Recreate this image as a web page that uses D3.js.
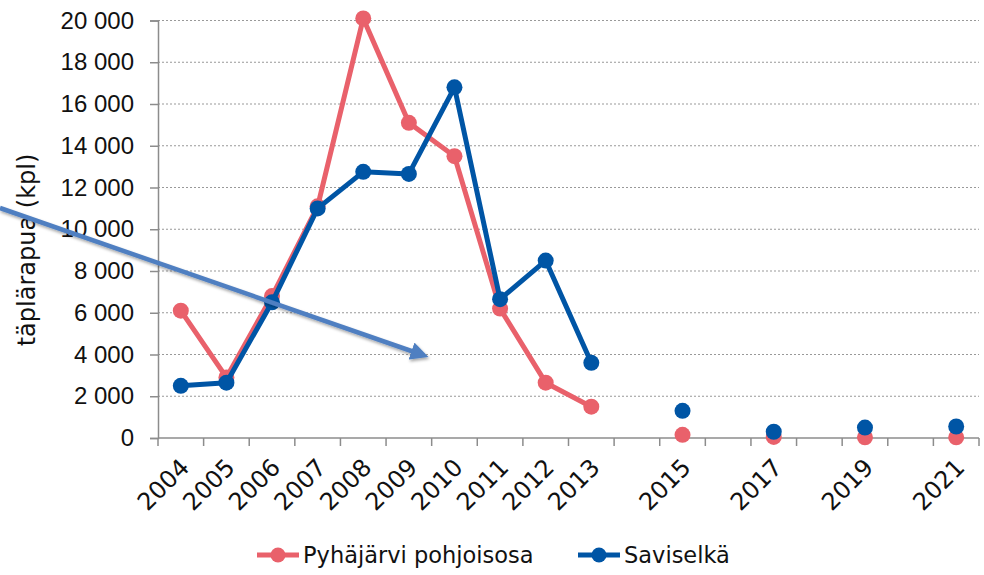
<!DOCTYPE html>
<html lang="fi">
<head>
<meta charset="UTF-8">
<title>Täplärapu</title>
<script src="https://cdn.jsdelivr.net/npm/d3@7"></script>
<style>
  body { margin: 0; background: #fff; font-family: "DejaVu Sans", sans-serif; }
  .grid line { stroke: #999; stroke-dasharray: 2 2; stroke-width: 1.2; }
  .axis path, .axis line { stroke: #8c8c8c; stroke-width: 1.5; }
  .axis text { font-size: 24px; fill: #111; }
</style>
</head>
<body>
<svg id="chart" width="984" height="575"></svg>
<script>
// years on the category axis (every year has a slot, only some are measured)
var years = [2004, 2005, 2006, 2007, 2008, 2009, 2010, 2011, 2012, 2013,
             2014, 2015, 2016, 2017, 2018, 2019, 2020, 2021];
var yearLabels = ["2004", "2005", "2006", "2007", "2008", "2009", "2010", "2011", "2012", "2013",
                  "", "2015", "", "2017", "", "2019", "", "2021"];
var pyhajarvi = [6100, 2900, 6800, 11100, 20100, 15100, 13500, 6200, 2650, 1500,
                 null, 150, null, 50, null, 30, null, 30];
var saviselka = [2500, 2650, 6500, 11000, 12750, 12650, 16800, 6650, 8500, 3600,
                 null, 1300, null, 300, null, 500, null, 550];
var yTicks = [0, 2000, 4000, 6000, 8000, 10000, 12000, 14000, 16000, 18000, 20000];
var seriesNames = ["Pyhäjärvi pohjoisosa", "Saviselkä"];
var seriesColors = ["#e9616b", "#0055a5"];

var svg = d3.select("#chart");
var m = { left: 158, right: 979, top: 20.5, bottom: 438 };

var x = d3.scaleBand().domain(years).range([m.left, m.right]);
var y = d3.scaleLinear().domain([0, 20000]).range([m.bottom, m.top]);

var fmt = function (d) { return d3.format(",")(d).replace(/,/g, " "); };

// gridlines
svg.append("g").attr("class", "grid")
  .selectAll("line").data(yTicks.slice(1)).enter().append("line")
  .attr("x1", m.left).attr("x2", m.right)
  .attr("y1", function (d) { return y(d); }).attr("y2", function (d) { return y(d); });

// y axis
svg.append("g").attr("class", "axis")
  .attr("transform", "translate(" + m.left + ",0)")
  .call(d3.axisLeft(y).tickValues(yTicks).tickFormat(fmt).tickSizeOuter(0).tickSize(8).tickPadding(16));

// x axis: ticks between categories
var bounds = years.map(function (d) { return x(d); }).concat([m.right]);
var xAxisG = svg.append("g").attr("class", "axis");
xAxisG.append("line").attr("x1", m.left).attr("x2", m.right).attr("y1", m.bottom).attr("y2", m.bottom);
xAxisG.selectAll(".tk").data(bounds).enter().append("line").attr("class", "tk")
  .attr("x1", function (d) { return d; }).attr("x2", function (d) { return d; })
  .attr("y1", m.bottom).attr("y2", m.bottom + 8);
xAxisG.selectAll("text").data(years).enter().append("text")
  .attr("text-anchor", "end")
  .attr("transform", function (d) {
    return "translate(" + (x(d) + x.bandwidth() / 2 - 2) + "," + (m.bottom + 19) + ") rotate(-45)";
  })
  .attr("dy", "0.7em")
  .text(function (d, i) { return yearLabels[i]; });

// y title
svg.append("text")
  .attr("transform", "translate(35,250) rotate(-90)")
  .attr("text-anchor", "middle")
  .style("font-size", "24px").style("fill", "#111")
  .text("täplärapua (kpl)");

// series
var line = d3.line()
  .defined(function (d) { return d != null; })
  .x(function (d, i) { return x(years[i]) + x.bandwidth() / 2; })
  .y(function (d) { return y(d); });

[pyhajarvi, saviselka].forEach(function (vals, k) {
  var g = svg.append("g");
  g.append("path").datum(vals)
    .attr("d", line).attr("fill", "none")
    .attr("stroke", seriesColors[k]).attr("stroke-width", 5)
    .attr("stroke-linejoin", "round");
  g.selectAll("circle").data(vals.map(function (v, i) { return { v: v, i: i }; })
      .filter(function (d) { return d.v != null; }))
    .enter().append("circle")
    .attr("cx", function (d) { return x(years[d.i]) + x.bandwidth() / 2; })
    .attr("cy", function (d) { return y(d.v); })
    .attr("r", 8).attr("fill", seriesColors[k]);
});

// legend
var legendX = [257, 578];
seriesNames.forEach(function (name, k) {
  var lg = svg.append("g").attr("transform", "translate(" + legendX[k] + ",555)");
  lg.append("line").attr("x1", 0).attr("x2", 42)
    .attr("stroke", seriesColors[k]).attr("stroke-width", 5);
  lg.append("circle").attr("cx", 21).attr("r", 7.5).attr("fill", seriesColors[k]);
  lg.append("text").attr("x", 46).attr("dy", "0.35em")
    .style("font-size", "22.5px").style("fill", "#111").text(name);
});

// annotation arrow
var defs = svg.append("defs");
defs.append("marker").attr("id", "ah").attr("viewBox", "0 0 10 10")
  .attr("refX", 5).attr("refY", 5).attr("markerWidth", 4).attr("markerHeight", 4)
  .attr("orient", "auto")
  .append("path").attr("d", "M0,0L10,5L0,10Z").attr("fill", "#4f7fc1");
var sh = defs.append("filter").attr("id", "sh").attr("x", "-10%").attr("y", "-10%")
  .attr("width", "120%").attr("height", "140%");
sh.append("feDropShadow").attr("dx", 1).attr("dy", 2).attr("stdDeviation", 1.5)
  .attr("flood-color", "#000").attr("flood-opacity", 0.35);
svg.append("line")
  .attr("x1", 0).attr("y1", 208).attr("x2", 420).attr("y2", 354)
  .attr("stroke", "#4f7fc1").attr("stroke-width", 4.5)
  .attr("marker-end", "url(#ah)").attr("filter", "url(#sh)");
</script>
</body>
</html>
